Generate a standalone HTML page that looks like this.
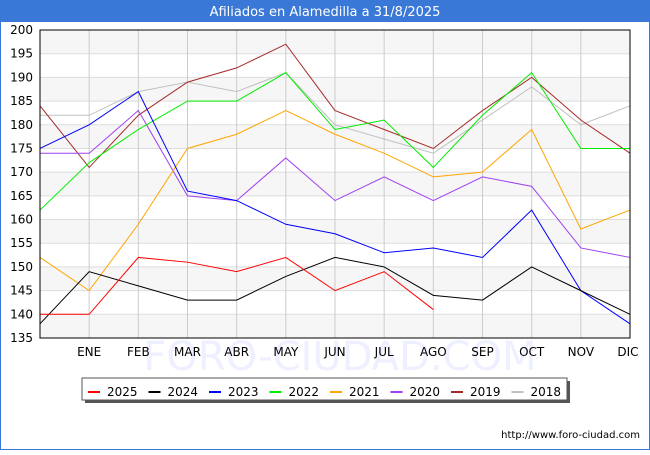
<!DOCTYPE html>
<html><head><meta charset="utf-8"><style>
body{margin:0;width:650px;height:450px;background:#fff;font-family:"Liberation Sans","DejaVu Sans",sans-serif;overflow:hidden}
</style></head><body>
<svg id="s" width="650" height="450" xmlns="http://www.w3.org/2000/svg" font-family="DejaVu Sans, Liberation Sans, sans-serif">
<rect x="0.5" y="0.5" width="649" height="449" fill="#fff" stroke="#3a78d8"/>
<rect x="0" y="0" width="650" height="22" fill="#3a78d8"/>
<text x="325" y="16" fill="#fff" font-size="13" text-anchor="middle">Afiliados en Alamedilla a 31/8/2025</text>
<g id="grid"></g>
<text x="340" y="370" fill="#eef0ff" font-size="40" text-anchor="middle">FORO-CIUDAD.COM</text>
<g id="lines"></g>
<rect x="40" y="30" width="590" height="308" fill="none" stroke="#000"/>
<g id="lab" font-size="12"></g>
<rect x="85" y="381" width="485" height="22" fill="#555"/>
<rect x="82" y="378" width="485" height="22" fill="#fff" stroke="#555"/>
<g id="leg" font-size="12"></g>
<text x="640" y="438" font-size="10" text-anchor="end" fill="#000">http://www.foro-ciudad.com</text>
</svg>
<script>
var ns="http://www.w3.org/2000/svg";
function el(p,t,a,txt){var e=document.createElementNS(ns,t);for(var k in a)e.setAttribute(k,a[k]);if(txt)e.textContent=txt;document.getElementById(p).appendChild(e);}
function Y(v){return 30+(200-v)*308/65}
function X(i){return 40+i*590/12}
for(var v=135;v<200;v+=10){el("grid","rect",{x:40,y:Y(v+5),width:590,height:Y(v)-Y(v+5),fill:"#f6f6f6"});}
for(var v=135;v<=200;v+=5){el("grid","line",{x1:40,x2:630,y1:Y(v),y2:Y(v),stroke:"#ddd"});el("lab","text",{x:33,y:Y(v)+4,"text-anchor":"end"},""+v);}
var m=["ENE","FEB","MAR","ABR","MAY","JUN","JUL","AGO","SEP","OCT","NOV","DIC"];
for(var i=1;i<=12;i++){el("grid","line",{x1:X(i),x2:X(i),y1:30,y2:338,stroke:"#ccc"});el("lab","text",{x:X(i)-(i==12?2:0),y:356,"text-anchor":"middle"},m[i-1]);}
var S=[
["2018","#c0c0c0",[182,182,187,189,187,191,180,177,174,181,188,180,184]],
["2019","#a52a2a",[184,171,182,189,192,197,183,179,175,183,190,181,174]],
["2020","#a040f0",[174,174,183,165,164,173,164,169,164,169,167,154,152]],
["2021","#ffa500",[152,145,159,175,178,183,178,174,169,170,179,158,162]],
["2022","#00ee00",[162,172,179,185,185,191,179,181,171,182,191,175,175]],
["2023","#0000ff",[175,180,187,166,164,159,157,153,154,152,162,145,138]],
["2024","#000000",[138,149,146,143,143,148,152,150,144,143,150,145,140]],
["2025","#ff0000",[140,140,152,151,149,152,145,149,141]]];
S.forEach(function(s){el("lines","polyline",{points:s[2].map(function(v,i){return X(i)+","+Y(v)}).join(" "),fill:"none",stroke:s[1],"stroke-width":1});});
var L=S.slice().reverse();
L.forEach(function(s,i){var x=88+i*60.5;el("leg","line",{x1:x,x2:x+12,y1:392,y2:392,stroke:s[1],"stroke-width":2});el("leg","text",{x:x+19,y:396},s[0]);});
</script>
</body></html>
